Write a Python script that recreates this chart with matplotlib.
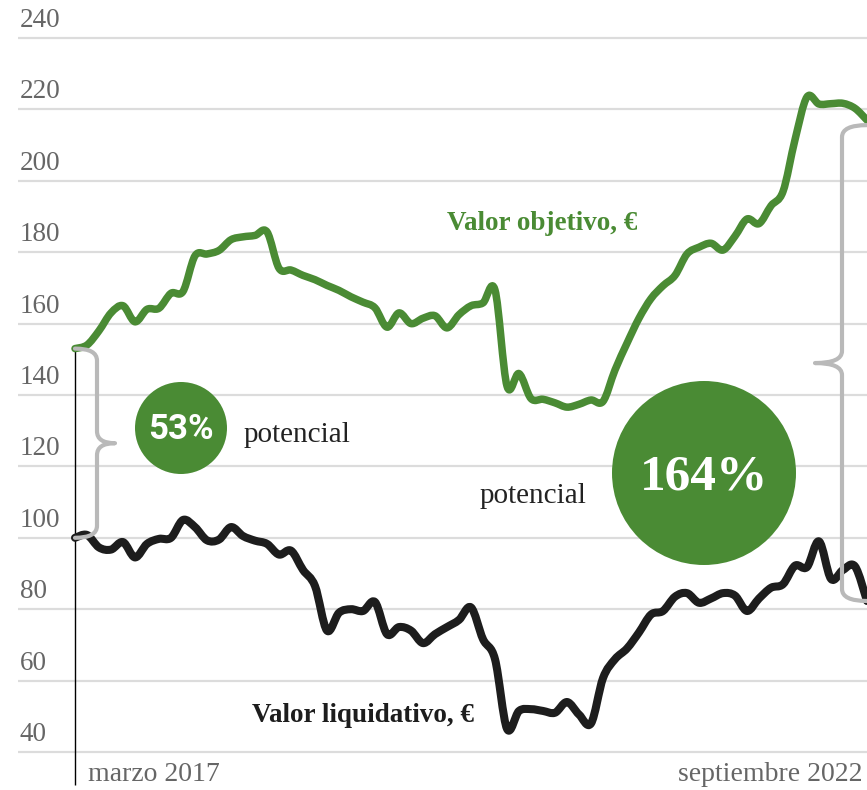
import numpy as np
import matplotlib
matplotlib.use('Agg')
import matplotlib.pyplot as plt
from matplotlib.path import Path
from matplotlib.patches import PathPatch, Ellipse

# meses desde marzo 2017 (0) hasta septiembre 2022 (66)
months = np.arange(67)

objetivo = [153, 154, 158, 163, 165, 160.5, 164, 164.3, 168.5, 169,
            179, 179.5, 180.5, 183.5, 184.3, 184.7, 185.7, 175.5, 175, 173.5,
            172.3, 170.7, 169.3, 167.5, 166, 164.4, 159, 163, 160, 161.5,
            162.2, 158.8, 162.5, 165, 165.8, 169.4, 142.5, 146, 139, 138.8,
            137.8, 136.6, 137.4, 138.6, 138.2, 147, 154.5, 161.5, 167, 170.6,
            173.5, 179.5, 181.4, 182.5, 180.6, 184.5, 189.3, 188, 193, 197,
            211.5, 223.5, 221.5, 221.6, 221.7, 220.3, 217]

liquidativo = [100, 100.8, 97.3, 96.7, 98.8, 94.5, 98.3, 99.7, 100, 105,
               103, 99.3, 99.5, 103, 100.5, 99.2, 98.3, 95.3, 96.4, 91,
               86.5, 74, 79, 80, 79.5, 82, 73, 75, 74, 70.5,
               73, 75, 77, 80.5, 71.6, 66, 46.5, 51.5, 52, 51.5,
               51, 54, 50.5, 48, 60.7, 66, 69, 73.5, 78.5, 79.5,
               83.5, 84.5, 81.8, 83, 84.5, 83.8, 79.5, 83, 86, 87,
               92.2, 91.8, 99, 88.5, 91, 92, 82.3]

y_ticks = [40, 60, 80, 100, 120, 140, 160, 180, 200, 220, 240]
start_label = 'marzo 2017'
end_label = 'septiembre 2022'

GREEN = '#4a8b34'
BLACK = '#1d1d1d'
GRID = '#dcdcdc'
BRACE = '#b9b9b9'

# escala en pixeles
PX_X = 12.0          # px por mes
PX_Y = 714 / 200.0   # px por unidad
X0 = -75 / PX_X
YTOP = 240 + 38 / PX_Y


def P(x, y):
    # pixel de la imagen -> coordenadas de datos
    return x / PX_X + X0, YTOP - y / PX_Y


def to_px(mx, v):
    return (mx - X0) * PX_X, (YTOP - v) * PX_Y


def smooth_path(xs, ys):
    # curva cardinal (catmull-rom) como curvas bezier de matplotlib
    pts = np.column_stack([xs, ys]).astype(float)
    n = len(pts)
    verts = [pts[0]]
    codes = [Path.MOVETO]
    for i in range(n - 1):
        p0 = pts[max(i - 1, 0)]
        p1 = pts[i]
        p2 = pts[i + 1]
        p3 = pts[min(i + 2, n - 1)]
        verts += [p1 + (p2 - p0) / 6, p2 - (p3 - p1) / 6, p2]
        codes += [Path.CURVE4] * 3
    return Path(verts, codes)


fig = plt.figure(figsize=(8.67, 7.9), dpi=100)
ax = fig.add_axes([0, 0, 1, 1])
ax.set_xlim(X0, months[-1])
ax.set_ylim(YTOP - 790 / PX_Y, YTOP)
ax.axis('off')

# rejilla y etiquetas del eje
gx0 = P(18, 0)[0]
ax.hlines(y_ticks, gx0, months[-1], color=GRID, lw=1.6, zorder=1)
for t in y_ticks:
    ax.text(P(20, 0)[0], t + 11 / PX_Y, str(t), ha='left', va='baseline',
            fontsize=19.5, color='#666666', family='Liberation Serif')

# eje vertical
ax.plot([0, 0], [objetivo[0], P(0, 785)[1]], color='black', lw=1.0,
        zorder=2, solid_capstyle='butt')

ax.text(*P(88, 781), start_label, ha='left', va='baseline', fontsize=20,
        color='#666666', family='Liberation Serif')
ax.text(*P(862, 781), end_label, ha='right', va='baseline', fontsize=20,
        color='#666666', family='Liberation Serif')

# series
ax.add_patch(PathPatch(smooth_path(months, objetivo), fill=False, ec=GREEN,
                       lw=5.4, zorder=3, capstyle='round', joinstyle='round'))
ax.add_patch(PathPatch(smooth_path(months, liquidativo), fill=False, ec=BLACK,
                       lw=5.8, zorder=3, capstyle='round', joinstyle='round'))


def brace(x0, y_top, y_bot, x_line, x_tip, r=12):
    mid = (y_top + y_bot) / 2
    pts = [(x0, y_top), (x_line, y_top), (x_line, y_top + r),
           (x_line, mid - r),
           (x_line, mid), (x_tip, mid),
           (x_line, mid), (x_line, mid + r),
           (x_line, y_bot - r),
           (x_line, y_bot), (x0, y_bot)]
    codes = [Path.MOVETO, Path.CURVE3, Path.CURVE3, Path.LINETO,
             Path.CURVE3, Path.CURVE3, Path.CURVE3, Path.CURVE3,
             Path.LINETO, Path.CURVE3, Path.CURVE3]
    verts = [P(x, y) for x, y in pts]
    ax.add_patch(PathPatch(Path(verts, codes), fill=False, ec=BRACE, lw=3.0,
                           zorder=4, capstyle='round', joinstyle='round'))


lx, ly1 = to_px(0, objetivo[0])
_, ly2 = to_px(0, liquidativo[0])
brace(lx, ly1, ly2, lx + 22, lx + 40)
rx, ry1 = to_px(months[-1], objetivo[-1])
_, ry2 = to_px(months[-1], liquidativo[-1])
brace(rx, ry1 + 5, ry2, rx - 25, rx - 52)

# circulos de potencial
ax.add_patch(Ellipse(P(181, 428), 2 * 46 / PX_X, 2 * 46 / PX_Y,
                     color=GREEN, zorder=5, lw=0))
ax.text(*P(181, 430), '53%', ha='center', va='center', fontsize=25,
        color='white', weight='bold', family='Roboto', zorder=6)
ax.add_patch(Ellipse(P(704, 473), 2 * 92 / PX_X, 2 * 92 / PX_Y,
                     color=GREEN, zorder=5, lw=0))
ax.text(*P(704, 478), '164%', ha='center', va='center', fontsize=37,
        color='white', weight='bold', family='Liberation Serif', zorder=6)

ax.text(*P(244, 442), 'potencial', ha='left', va='baseline', fontsize=21,
        color='#222222', family='Liberation Serif')
ax.text(*P(480, 503), 'potencial', ha='left', va='baseline', fontsize=21,
        color='#222222', family='Liberation Serif')

ax.text(*P(542, 224), 'Valor objetivo, €', ha='center', va='center',
        fontsize=19.5, color=GREEN, weight='bold', family='Liberation Serif')
ax.text(*P(363, 715), 'Valor liquidativo, €', ha='center', va='center',
        fontsize=19.5, color=BLACK, weight='bold', family='Liberation Serif')

fig.savefig('out.png', dpi=100)
